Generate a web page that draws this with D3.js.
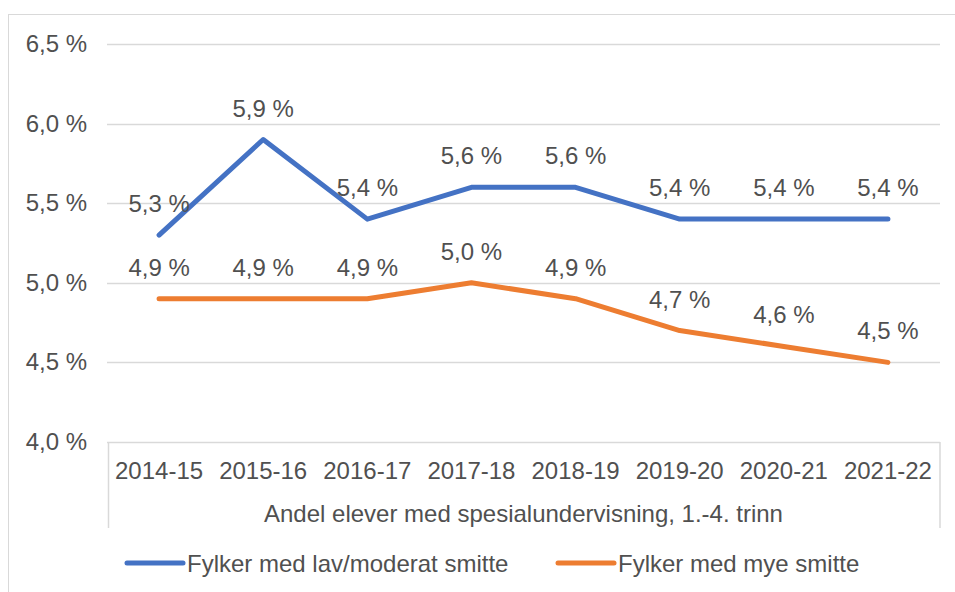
<!DOCTYPE html>
<html>
<head>
<meta charset="utf-8">
<script src="https://cdn.jsdelivr.net/npm/d3@7"></script>
<style>
  body { margin: 0; background: #fff; }
  text { font-family: "Liberation Sans", Arial, sans-serif; fill: #505050; }
</style>
</head>
<body>
<script>
// Data
const categories = ["2014-15", "2015-16", "2016-17", "2017-18", "2018-19", "2019-20", "2020-21", "2021-22"];
const lavModerat = [5.3, 5.9, 5.4, 5.6, 5.6, 5.4, 5.4, 5.4];
const myeSmitte = [4.9, 4.9, 4.9, 5.0, 4.9, 4.7, 4.6, 4.5];
const yTicks = [4.0, 4.5, 5.0, 5.5, 6.0, 6.5];
const seriesNames = ["Fylker med lav/moderat smitte", "Fylker med mye smitte"];
const axisTitle = "Andel elever med spesialundervisning, 1.-4. trinn";

const width = 955;
const height = 592;
const fontSize = 24;
const colors = ["#4472C4", "#ED7D31"];

// Norsk tallformat med komma
const no = d3.formatLocale({ decimal: ",", thousands: " ", grouping: [3], currency: ["", " kr"] });
const fmt = d => no.format(".1f")(d) + " %";

const svg = d3.select("body").append("svg")
  .attr("width", width)
  .attr("height", height);

// Ramme rundt diagrammet
svg.append("rect")
  .attr("x", 8.5).attr("y", 14.5)
  .attr("width", 960).attr("height", 600)
  .attr("fill", "none")
  .attr("stroke", "#d9d9d9")
  .attr("stroke-width", 1);

const x = d3.scaleBand()
  .domain(categories)
  .range([107, 940]);

const y = d3.scaleLinear()
  .domain([4.0, 6.5])
  .range([442, 44]);

// Rutenett
svg.append("g").selectAll("line")
  .data(yTicks)
  .enter()
  .append("line")
  .attr("x1", 107).attr("x2", 940)
  .attr("y1", d => Math.round(y(d)) + 0.5)
  .attr("y2", d => Math.round(y(d)) + 0.5)
  .attr("stroke", "#d9d9d9")
  .attr("stroke-width", 1.5);

// Y-akse tekst
svg.append("g").selectAll("text")
  .data(yTicks)
  .enter()
  .append("text")
  .attr("x", 87)
  .attr("y", d => y(d) + 8)
  .attr("text-anchor", "end")
  .attr("font-size", fontSize)
  .text(fmt);

// Kategoriboks under aksen
const box = svg.append("g")
  .attr("stroke", "#d9d9d9")
  .attr("stroke-width", 1.5);
box.append("line").attr("x1", 108.5).attr("x2", 108.5).attr("y1", 442).attr("y2", 528);
box.append("line").attr("x1", 940).attr("x2", 940).attr("y1", 442).attr("y2", 528);

svg.append("g").selectAll("text")
  .data(categories)
  .enter()
  .append("text")
  .attr("x", d => x(d) + x.bandwidth() / 2)
  .attr("y", 479)
  .attr("text-anchor", "middle")
  .attr("font-size", fontSize)
  .text(d => d);

svg.append("text")
  .attr("x", (107 + 940) / 2)
  .attr("y", 522)
  .attr("text-anchor", "middle")
  .attr("font-size", fontSize)
  .text(axisTitle);

// Linjer
const line = d3.line()
  .x((d, i) => x(categories[i]) + x.bandwidth() / 2)
  .y(d => y(d));

[lavModerat, myeSmitte].forEach(function(serie, k) {
  svg.append("path")
    .datum(serie)
    .attr("fill", "none")
    .attr("stroke", colors[k])
    .attr("stroke-width", 5)
    .attr("stroke-linecap", "round")
    .attr("stroke-linejoin", "round")
    .attr("d", line);

  svg.append("g").selectAll("text")
    .data(serie)
    .enter()
    .append("text")
    .attr("x", (d, i) => x(categories[i]) + x.bandwidth() / 2)
    .attr("y", d => y(d) - 23)
    .attr("text-anchor", "middle")
    .attr("font-size", fontSize)
    .text(fmt);
});

// Tegnforklaring
const legendX = [127, 558];
seriesNames.forEach(function(name, k) {
  svg.append("line")
    .attr("x1", legendX[k]).attr("x2", legendX[k] + 56)
    .attr("y1", 563).attr("y2", 563)
    .attr("stroke", colors[k])
    .attr("stroke-width", 5)
    .attr("stroke-linecap", "round");
  svg.append("text")
    .attr("x", legendX[k] + 60)
    .attr("y", 572)
    .attr("font-size", fontSize)
    .text(name);
});
</script>
</body>
</html>
